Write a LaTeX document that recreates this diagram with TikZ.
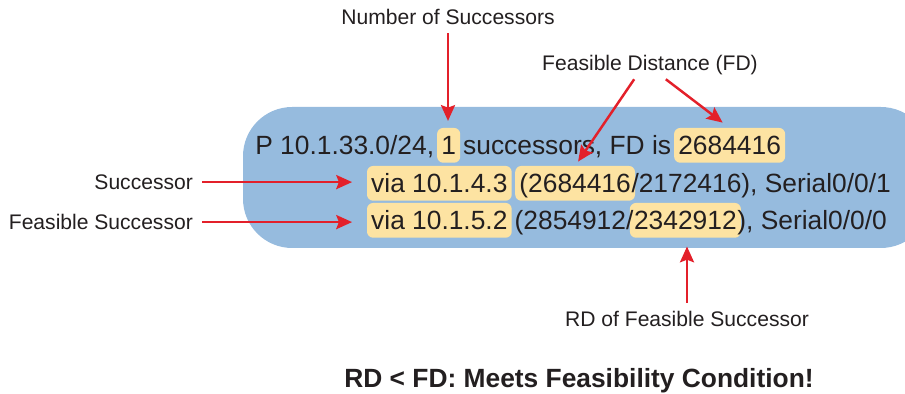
\documentclass[tikz,border=0pt]{standalone}
\usepackage{fontspec}
\setmainfont{Liberation Sans}
\usetikzlibrary{arrows.meta,positioning,backgrounds}
\definecolor{routeBlue}{HTML}{96BBDE}
\definecolor{markYellow}{HTML}{FDE3A2}
\definecolor{calloutRed}{HTML}{E3202A}
\definecolor{inkDark}{HTML}{231F20}

\begin{document}
\begin{tikzpicture}[
  x=0.02cm, y=-0.02cm,
  font=\fontsize{15}{18}\selectfont,
  txt/.style={inner sep=0pt, text height=11pt, text depth=0pt,
              anchor=base west, text=inkDark},
  hilite/.style={txt, inner xsep=2.2pt, inner ysep=4.2pt},
  lbl/.style={font=\fontsize{12}{14}\selectfont, text=inkDark,
              inner xsep=5pt, inner ysep=4.5pt, text height=9pt, text depth=0pt},
  arr/.style={-{Stealth[length=9pt,width=8pt,inset=1.5pt]}, line width=1.4pt, draw=calloutRed}
]
\useasboundingbox (0,0) rectangle (905,394);

% Callout labels
\node[lbl, anchor=base] (numlbl) at (448,25) {Number of Successors};
\node[lbl, anchor=base] (fdlbl) at (650,71) {Feasible Distance (FD)};
\node[lbl, anchor=base east] (suclbl) at (202,190) {Successor};
\node[lbl, anchor=base east] (fslbl) at (202,230) {Feasible Successor};
\node[lbl, anchor=base] (rdlbl) at (687,327) {RD of Feasible Successor};

% Topology table entry, line by line
\node[txt] (p1) at (255,155) {P 10.1.33.0/24,};
\node[hilite] (n1) at ([xshift=1.5pt]p1.base east) {1};
\node[txt] (p2) at ([xshift=1.5pt]n1.base east) {successors, FD is};
\node[hilite] (fd1) at ([xshift=1.5pt]p2.base east) {2684416};

\node[hilite] (s1) at (367,193) {via 10.1.4.3};
\node[hilite] (fd2) at ([xshift=2pt]s1.base east) {(2684416};
\node[txt] (r2) at ([xshift=-2.2pt]fd2.base east) {/2172416), Serial0/0/1};

\node[hilite] (s2) at (367,230) {via 10.1.5.2};
\node[txt] (q3) at ([xshift=1.5pt]s2.base east) {(2854912/};
\node[hilite] (rd3) at ([xshift=-2.2pt]q3.base east) {2342912};
\node[txt] (r3) at ([xshift=-2.2pt]rd3.base east) {), Serial0/0/0};

% Result
\node[font=\bfseries\fontsize{15}{18}\selectfont, text=inkDark, anchor=base] (cond)
  at (579,388) {RD < FD: Meets Feasibility Condition!};

% Panel and highlights behind the text
\begin{scope}[on background layer]
  \fill[routeBlue, rounded corners=28pt] (243,107) rectangle (930,248);
  \foreach \n in {n1,fd1,s1,fd2,s2,rd3}
    \fill[markYellow, rounded corners=3.5pt] (\n.south west) rectangle (\n.north east);
\end{scope}

% Callout arrows
\draw[arr, shorten >=4pt] (numlbl.south) -- (numlbl.south |- n1.north);
\draw[arr, shorten >=3pt] ([xshift=-9pt]fdlbl.south) -- (fd2.north);
\draw[arr, shorten >=5pt] ([xshift=9pt]fdlbl.south) -- (fd1.north);
\draw[arr, shorten >=8.5pt] (suclbl.east) -- (suclbl.east -| s1.west);
\draw[arr, shorten >=8.5pt] (fslbl.east) -- (fslbl.east -| s2.west);
\draw[arr, shorten >=5pt] (rdlbl.north) -- (rdlbl.north |- rd3.south);

\end{tikzpicture}
\end{document}
